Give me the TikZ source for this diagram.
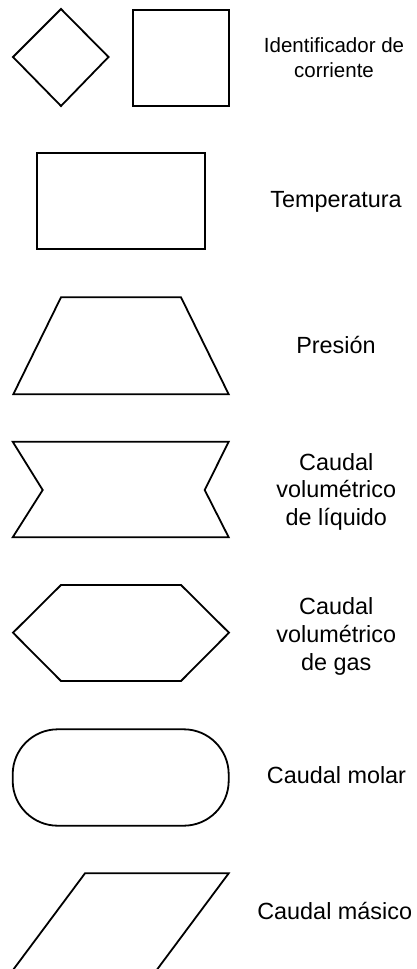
\documentclass[tikz,border=0pt]{standalone}
\usepackage{fontspec}
\setmainfont{Liberation Sans}
\begin{document}
\begin{tikzpicture}[x=1pt,y=-1pt,
  shp/.style={draw=black,line width=1.8pt,line join=miter},
  lbl/.style={anchor=base,align=center,inner sep=0pt,font=\fontsize{23.4}{27.8}\selectfont},
  lblsmall/.style={anchor=base,align=center,inner sep=0pt,font=\fontsize{20.5}{25}\selectfont}]
\useasboundingbox (0,0) rectangle (417,969);
% diamond + square
\draw[shp] (13,57) -- (61,9) -- (108.5,57) -- (61,106) -- cycle;
\draw[shp] (133,10) rectangle (229,106);
\node[lblsmall] (ident) at (334,77.7) {Identificador de\\corriente};
% rectangle
\draw[shp] (37,153.3) rectangle (205,249.3);
\node[lbl] (temp) at (336,207.5) {Temperatura};
% trapezoid
\draw[shp] (61,297.3) -- (181,297.3) -- (228.7,394.3) -- (13.3,394.3) -- cycle;
\node[lbl] (pres) at (336,353.3) {Presión};
% bowtie
\draw[shp] (12.7,441.7) -- (228.7,441.7) -- (204.7,490) -- (228.7,537.3) -- (12.7,537.3) -- (42.7,490) -- cycle;
\node[lbl] (liq) at (336.3,525.7) {Caudal\\volumétrico\\de líquido};
% hexagon
\draw[shp] (61,585) -- (181,585) -- (229,632.7) -- (181,681) -- (61,681) -- (13,632.7) -- cycle;
\node[lbl] (gas) at (336.3,670) {Caudal\\volumétrico\\de gas};
% rounded
\draw[shp,rounded corners=45pt] (12.7,729.3) rectangle (228.7,825.7);
\node[lbl] (molar) at (336.5,783.3) {Caudal molar};
% parallelogram
\draw[shp] (85,873.3) -- (228.7,873.3) -- (156.7,970) -- (13,970) -- cycle;
\node[lbl] (masico) at (334.7,919.3) {Caudal másico};
\end{tikzpicture}
\end{document}
